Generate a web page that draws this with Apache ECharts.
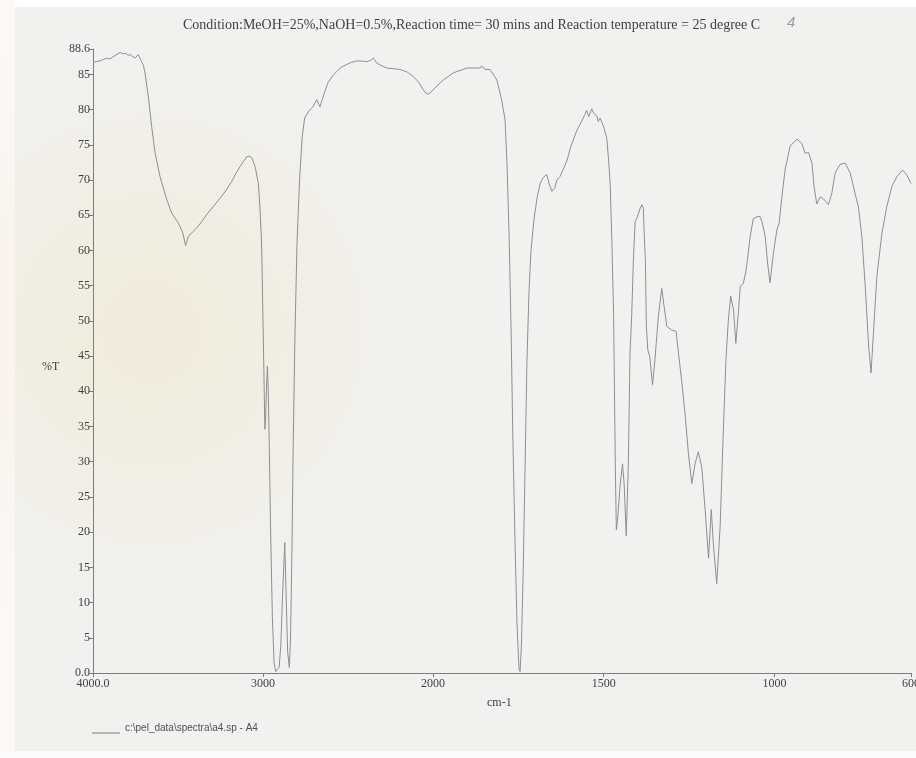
<!DOCTYPE html>
<html>
<head>
<meta charset="utf-8">
<script src="https://cdn.jsdelivr.net/npm/echarts@6/dist/echarts.min.js"></script>
<style>
  html, body { margin: 0; padding: 0; background: #ffffff; }
  #chart { width: 916px; height: 758px; }
</style>
</head>
<body>
<div id="chart"></div>
<script>
// FT-IR spectrum, wavenumber (cm-1) vs %T
const wavenumber = [
  4000, 3982, 3959, 3940, 3919, 3900, 3876, 3855, 3840, 3831, 3820, 3806, 3795, 3782, 3765, 3753,
  3742, 3734, 3724, 3714, 3704, 3694, 3675, 3655, 3635, 3606, 3566, 3537, 3518, 3498, 3472, 3455,
  3439, 3415, 3390, 3360, 3331, 3290, 3253, 3215, 3184, 3160, 3135, 3110, 3096, 3077, 3065, 3057,
  3045, 3037, 3027, 3018, 3010, 3006, 3000, 2995, 2989, 2985, 2980, 2974, 2969, 2963, 2955, 2945,
  2935, 2925, 2915, 2905, 2895, 2885, 2872, 2865, 2855, 2845, 2838, 2830, 2822, 2812, 2800, 2785,
  2770, 2755, 2730, 2706, 2684, 2665, 2640, 2618, 2590, 2567, 2540, 2508, 2480, 2449, 2420, 2390,
  2365, 2351, 2331, 2300, 2272, 2230, 2194, 2150, 2116, 2085, 2057, 2040, 2028, 2015, 2000,
  1979, 1970, 1941, 1901, 1877, 1862, 1857, 1848, 1833, 1813, 1799, 1789, 1783, 1777, 1771, 1766,
  1760, 1754, 1748, 1745, 1741, 1736, 1730, 1725, 1719, 1713, 1704, 1695, 1686, 1678, 1667, 1660,
  1652, 1643, 1637, 1628, 1619, 1608, 1596, 1579, 1566, 1555, 1550, 1544, 1540, 1535, 1528, 1520,
  1516, 1511, 1501, 1491, 1486, 1481, 1476, 1471, 1466, 1463, 1459, 1452, 1445, 1440, 1434, 1428,
  1423, 1418, 1413, 1408, 1402, 1393, 1388, 1384, 1381, 1378, 1375, 1371, 1365, 1357, 1350, 1340,
  1330, 1323, 1315, 1301, 1288, 1281, 1271, 1261, 1252, 1242, 1232, 1223, 1213, 1203, 1193, 1185,
  1179, 1169, 1159, 1151, 1142, 1135, 1128, 1120, 1113, 1105, 1100, 1091, 1083, 1079, 1071, 1062,
  1051, 1042, 1036, 1027, 1020, 1013, 1003, 993, 986, 979, 969, 954, 934, 920, 910, 900,
  890, 884, 876, 866, 856, 842, 832, 822, 808, 793, 778, 764, 754, 744, 734, 724,
  717, 710, 700, 685, 671, 656, 641, 624, 612, 600
];
const transmittance = [
  86.7, 86.8, 86.9, 87.1, 87.3, 87.2, 87.6, 87.9, 88.1, 88.3, 87.9, 88.0, 87.7, 87.8, 87.5, 87.3,
  87.4, 87.8, 87.3, 86.8, 86.3, 85.2, 81.9, 77.6, 73.9, 70.5, 67.2, 65.3, 64.6, 63.9, 62.5, 60.7,
  62.0, 62.6, 63.2, 64.1, 65.1, 66.3, 67.4, 68.6, 69.8, 70.9, 71.9, 72.8, 73.3, 73.4, 73.1, 72.6,
  71.8, 70.7, 69.5, 66.0, 62.0, 58.4, 50.0, 43.2, 34.6, 36.0, 40.0, 43.6, 40.0, 32.0, 20.0, 8.0,
  1.5, 0.2, 0.3, 0.8, 4.0, 11.0, 18.5, 12.0, 3.0, 0.8, 5.0, 17.0, 33.0, 48.0, 61.0, 70.0,
  76.0, 78.8, 79.8, 80.4, 81.4, 80.4, 82.3, 83.8, 84.8, 85.4, 86.0, 86.4, 86.7, 86.9, 86.9, 86.8,
  87.0, 87.3, 86.6, 86.2, 85.9, 85.8, 85.7, 85.3, 84.7, 83.9, 82.8, 82.3, 82.2, 82.4, 82.8,
  83.8, 84.2, 85.2, 85.9, 85.9, 85.9, 86.2, 85.7, 85.7, 84.2, 81.4, 78.6, 72.0, 62.0, 48.0, 33.0,
  19.0, 7.0, 0.5, 0.2, 4.0, 14.0, 30.0, 44.0, 54.0, 60.0, 64.5, 67.5, 69.5, 70.3, 70.8, 69.5,
  68.4, 68.9, 70.0, 70.5, 71.5, 72.7, 74.8, 77.0, 78.2, 79.3, 79.9, 79.0, 78.8, 80.1, 79.4, 79.1,
  78.3, 78.8, 77.7, 75.9, 73.0, 69.4, 61.0, 50.8, 29.4, 20.3, 22.0, 26.7, 29.7, 26.7, 19.5, 29.4,
  45.4, 50.8, 58.8, 64.1, 64.7, 66.0, 66.5, 66.0, 62.0, 58.7, 49.2, 45.9, 44.9, 40.9, 44.5, 50.6,
  54.6, 52.0, 49.2, 48.7, 48.5, 45.4, 41.2, 36.4, 31.2, 26.9, 29.8, 31.4, 29.3, 23.2, 16.3, 23.2,
  18.4, 12.7, 20.8, 32.6, 44.5, 50.1, 53.5, 51.6, 46.8, 51.6, 54.9, 55.3, 57.2, 58.7, 62.0, 64.5,
  64.8, 64.8, 64.0, 62.0, 58.2, 55.4, 59.6, 62.9, 63.9, 67.2, 71.4, 74.8, 75.8, 75.2, 73.8, 73.9,
  72.4, 69.1, 66.6, 67.6, 67.3, 66.5, 68.1, 71.0, 72.2, 72.4, 71.0, 68.1, 66.2, 62.0, 54.9, 46.3,
  42.6, 48.3, 56.3, 62.5, 66.2, 69.1, 70.5, 71.4, 70.7, 69.5
];

// The x scale changes at 2000 cm-1 (expanded below it)
const scaleBreak = 2000;
const xTicksHigh = [4000, 3000, 2000];
const xTicksLow = [1500, 1000, 600];
const yTicks = [0, 5, 10, 15, 20, 25, 30, 35, 40, 45, 50, 55, 60, 65, 70, 75, 80, 85, 88.6];

const titleText = 'Condition:MeOH=25%,NaOH=0.5%,Reaction time= 30 mins and Reaction temperature = 25 degree C';
const legendText = 'c:\\pel_data\\spectra\\a4.sp - A4';

const highRange = [];
const lowRange = [];
wavenumber.forEach((w, i) => {
  if (w >= scaleBreak) highRange.push([w, transmittance[i]]);
  if (w <= scaleBreak) lowRange.push([w, transmittance[i]]);
});

const serif = '"Liberation Serif", "Times New Roman", serif';
const sans = '"Liberation Sans", Arial, sans-serif';
const axisGray = '#7c7c7c';
const textGray = '#3f3f3f';
const traceGray = '#8e8e8e';

const plotTop = 49, plotHeight = 624;

const xAxisBase = {
  type: 'value',
  inverse: true,
  axisLine: { onZero: false, lineStyle: { color: axisGray, width: 1 } },
  splitLine: { show: false },
};

const chart = echarts.init(document.getElementById('chart'));
chart.setOption({
  animation: false,
  backgroundColor: '#f1f1f0',
  grid: [
    { left: 93, top: plotTop, width: 340, height: plotHeight, outerBoundsMode: 'none', containLabel: false },
    { left: 433, top: plotTop, width: 478, height: plotHeight, outerBoundsMode: 'none', containLabel: false }
  ],
  xAxis: [
    Object.assign({}, xAxisBase, {
      gridIndex: 0, min: 2000, max: 4000,
      axisTick: { show: true, length: 4, customValues: xTicksHigh, lineStyle: { color: axisGray } },
      axisLabel: {
        customValues: xTicksHigh, color: textGray, fontFamily: serif, fontSize: 12, margin: 5,
        formatter: v => (v === 4000 ? '4000.0' : String(v))
      }
    }),
    Object.assign({}, xAxisBase, {
      gridIndex: 1, min: 600, max: 2000,
      axisTick: { show: true, length: 4, customValues: xTicksLow, lineStyle: { color: axisGray } },
      axisLabel: {
        customValues: xTicksLow, color: textGray, fontFamily: serif, fontSize: 12, margin: 5,
        formatter: v => String(v)
      }
    })
  ],
  yAxis: [
    {
      gridIndex: 0, type: 'value', min: 0, max: 88.6,
      axisLine: { show: true, onZero: false, lineStyle: { color: axisGray, width: 1 } },
      axisTick: { show: true, length: 4, customValues: yTicks, lineStyle: { color: axisGray } },
      axisLabel: {
        customValues: yTicks, color: textGray, fontFamily: serif, fontSize: 12, margin: 3,
        padding: [0, 0, 8, 0],
        formatter: v => (v === 0 ? '0.0' : String(v))
      },
      splitLine: { show: false }
    },
    { gridIndex: 1, type: 'value', min: 0, max: 88.6, show: false }
  ],
  series: [
    {
      type: 'line', xAxisIndex: 0, yAxisIndex: 0, data: highRange,
      showSymbol: false, silent: true, lineStyle: { color: traceGray, width: 1 }
    },
    {
      type: 'line', xAxisIndex: 1, yAxisIndex: 1, data: lowRange,
      showSymbol: false, silent: true, lineStyle: { color: traceGray, width: 1 }
    }
  ],
  graphic: [
    // paper edges
    { type: 'rect', z: -10, silent: true, shape: { x: 0, y: 0, width: 916, height: 7 }, style: { fill: '#ffffff' } },
    { type: 'rect', z: -10, silent: true, shape: { x: 0, y: 0, width: 15, height: 758 }, style: { fill: '#fbf8f8' } },
    { type: 'rect', z: -10, silent: true, shape: { x: 0, y: 751, width: 916, height: 7 }, style: { fill: '#fbfbfb' } },
    // faint seal printed on the paper behind the plot
    {
      type: 'circle', z: -9, silent: true, shape: { cx: 150, cy: 330, r: 320 },
      style: {
        fill: {
          type: 'radial', x: 0.5, y: 0.5, r: 0.5,
          colorStops: [
            { offset: 0, color: 'rgba(236, 222, 170, 0.30)' },
            { offset: 0.6, color: 'rgba(238, 228, 190, 0.16)' },
            { offset: 1, color: 'rgba(241, 241, 240, 0)' }
          ]
        }
      }
    },
    {
      type: 'text', left: 183, top: 18,
      style: { text: titleText, fill: textGray, font: '14px ' + serif }
    },
    {
      type: 'text', left: 787, top: 15,
      style: { text: '4', fill: '#9a9a9a', font: 'italic 15px ' + sans }
    },
    {
      type: 'text', left: 42, top: 361,
      style: { text: '%T', fill: textGray, font: '12px ' + serif }
    },
    {
      type: 'text', left: 487, top: 697,
      style: { text: 'cm-1', fill: textGray, font: '12px ' + serif }
    },
    {
      type: 'line', shape: { x1: 92, y1: 733, x2: 120, y2: 733 },
      style: { stroke: '#7a7a7a', lineWidth: 1 }
    },
    {
      type: 'text', left: 125, top: 723,
      style: { text: legendText, fill: '#505050', font: '10px ' + sans }
    }
  ]
});
</script>
</body>
</html>
